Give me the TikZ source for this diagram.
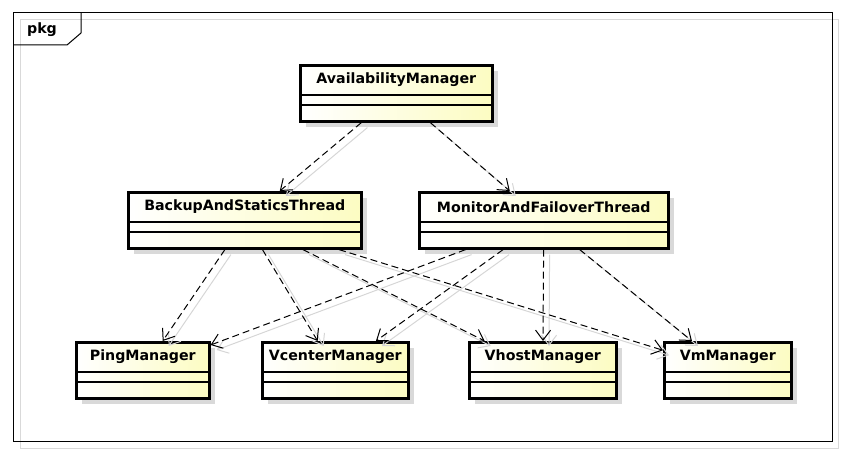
\documentclass[tikz,border=0pt]{standalone}
\usepackage{fontspec}
\setmainfont{DejaVu Sans}
\usetikzlibrary{arrows.meta,shadows}
\definecolor{classfill}{RGB}{252,252,194}
\tikzset{
  umlclass/.style={draw, line width=2.6pt, left color=white, right color=classfill,
    anchor=north west, minimum height=56pt, inner sep=0pt,
    drop shadow={shadow xshift=6pt, shadow yshift=-6pt, fill=black!15, opacity=1}},
  classname/.style={font=\fontsize{14.2pt}{16pt}\selectfont\bfseries},
  dep/.style={dash pattern=on 7pt off 4pt, line width=1pt,
    -{Straight Barb[length=10pt,width=15pt,line width=1pt]}},
  depshade/.style={black!16, line width=1pt,
    -{Straight Barb[length=10pt,width=15pt,line width=1pt]}},
}
\begin{document}
\begin{tikzpicture}[x=1pt, y=-1pt]
\useasboundingbox (0,0) rectangle (845,454);
% package frame
\draw[black!15, line width=1pt] (20,20) rectangle (838,448);
\draw[line width=1pt] (13,13) rectangle (832,441);
\draw[line width=1pt] (13,45) -- (67,45) -- (81,33) -- (81,13);
\node[classname] (pkg) at (42,30) {pkg};
% classes
\foreach \id/\txt/\l/\t/\w in {
    avail/AvailabilityManager/299/64/192,
    backup/BackupAndStaticsThread/127/191/233,
    monitor/MonitorAndFailoverThread/418/191/249,
    ping/PingManager/75/341/133,
    vcenter/VcenterManager/261/341/146,
    vhost/VhostManager/468/341/147,
    vm/VmManager/663/341/127} {
  \node[umlclass, minimum width=\w pt] (\id) at (\l,\t) {};
  \node[classname] (\id-name) at ([yshift=-16pt]\id.north) {\txt};
  \draw[line width=1.1pt] ([yshift=-31pt]\id.north west) -- ([yshift=-31pt]\id.north east);
  \draw[line width=1.1pt] ([yshift=-41pt]\id.north west) -- ([yshift=-41pt]\id.north east);
}
% grey echoes of the dependencies
\begin{scope}[transform canvas={xshift=6pt, yshift=-5pt}]
\foreach \a/\b in {avail/backup, avail/monitor,
    backup/ping, backup/vcenter, backup/vhost, backup/vm,
    monitor/ping, monitor/vcenter, monitor/vhost, monitor/vm}
  \draw[depshade] (\a) -- (\b);
\end{scope}
% dependencies
\foreach \a/\b in {avail/backup, avail/monitor,
    backup/ping, backup/vcenter, backup/vhost, backup/vm,
    monitor/ping, monitor/vcenter, monitor/vhost, monitor/vm}
  \draw[dep] (\a) -- (\b);
\end{tikzpicture}
\end{document}
